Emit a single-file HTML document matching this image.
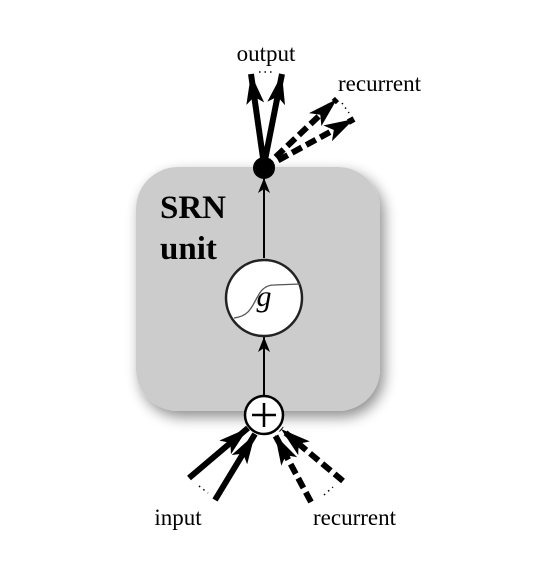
<!DOCTYPE html>
<html><head><style>html,body{margin:0;padding:0;background:#fff}</style></head><body>
<svg width="540" height="564" viewBox="0 0 540 564" xmlns="http://www.w3.org/2000/svg" font-family="Liberation Serif, serif">
<defs>
<filter id="sh" x="-20%" y="-20%" width="150%" height="150%"><feGaussianBlur in="SourceAlpha" stdDeviation="7"/><feOffset dx="4" dy="6"/><feComponentTransfer><feFuncA type="linear" slope="0.45"/></feComponentTransfer><feMerge><feMergeNode/><feMergeNode in="SourceGraphic"/></feMerge></filter>
<marker id="big" markerUnits="userSpaceOnUse" markerWidth="32" markerHeight="18" refX="30" refY="9" orient="auto" viewBox="0 0 32 18"><path d="M0,0 L30,9 L0,18 L7,9 Z" fill="#000"/></marker>
<marker id="sm" markerUnits="userSpaceOnUse" markerWidth="16" markerHeight="12" refX="15" refY="6" orient="auto" viewBox="0 0 16 12"><path d="M0,0 L15,6 L0,12 L4,6 Z" fill="#000"/></marker>
</defs>
<rect x="136" y="167" width="244" height="244" rx="42" fill="#cccccc" filter="url(#sh)"/>
<text x="160" y="218" font-size="33" font-weight="bold">SRN</text>
<text x="160" y="259" font-size="33" font-weight="bold">unit</text>
<line x1="264" y1="395" x2="264" y2="337" stroke="#000" stroke-width="2" marker-end="url(#sm)"/>
<line x1="264" y1="258" x2="264" y2="178" stroke="#000" stroke-width="2" marker-end="url(#sm)"/>
<circle cx="264" cy="298" r="38" fill="#fff" stroke="#222" stroke-width="2.5"/>
<path d="M234,318 C250,316 252,306 258,296 C262,288 268,285 274,285 L300,284" fill="none" stroke="#555" stroke-width="1.3"/>
<text x="264" y="306" font-size="30" font-style="italic" text-anchor="middle">g</text>
<circle cx="264" cy="415" r="19" fill="#fff" stroke="#000" stroke-width="2.5"/>
<path d="M252,415 H276 M264,403 V427" stroke="#000" stroke-width="2.5"/>
<g stroke="#000" stroke-width="6" fill="none">
<line x1="264" y1="165" x2="251" y2="74" marker-end="url(#big)"/>
<line x1="264" y1="165" x2="282" y2="74" marker-end="url(#big)"/>
<line x1="264" y1="168" x2="337" y2="99" stroke-dasharray="11,5" marker-end="url(#big)"/>
<line x1="264" y1="168" x2="354" y2="119" stroke-dasharray="11,5" marker-end="url(#big)"/>
<line x1="189" y1="478" x2="248" y2="428" marker-end="url(#big)"/>
<line x1="215" y1="500" x2="255" y2="434" marker-end="url(#big)"/>
<line x1="343" y1="481" x2="281" y2="429" stroke-dasharray="11,5" marker-end="url(#big)"/>
<line x1="311" y1="502" x2="275" y2="435" stroke-dasharray="11,5" marker-end="url(#big)"/>
</g>
<circle cx="264" cy="168" r="11" fill="#000"/>
<g stroke="#000" stroke-width="1.5" stroke-dasharray="1.5,4" fill="none">
<line x1="259" y1="72" x2="273" y2="72"/>
<line x1="342" y1="103" x2="349" y2="113"/>
<line x1="199" y1="486" x2="208" y2="493"/>
<line x1="324" y1="495" x2="333" y2="487"/>
</g>
<g font-size="23" fill="#000">
<text x="266" y="61" text-anchor="middle">output</text>
<text x="338" y="91">recurrent</text>
<text x="178" y="525" text-anchor="middle">input</text>
<text x="313" y="525">recurrent</text>
</g>
</svg>
</body></html>
